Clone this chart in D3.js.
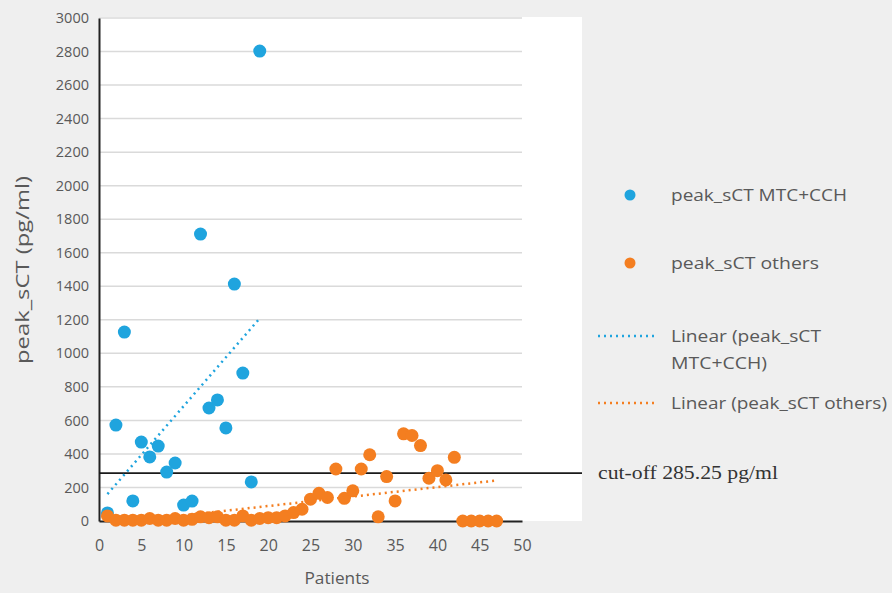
<!DOCTYPE html>
<html>
<head>
<meta charset="utf-8">
<script src="https://cdn.jsdelivr.net/npm/d3@7"></script>
<style>
  html, body { margin: 0; padding: 0; background: #efefef; }
  svg { display: block; }
</style>
</head>
<body>
<svg id="chart" width="892" height="593"></svg>
<script>
// ---- data ----
const mtcPatients = d3.range(1, 20);
const mtcValues = [48, 572, 1127, 120, 471, 382, 447, 292, 346, 95, 119, 1711, 674, 722, 555, 1413, 882, 233, 2803];

const otherPatients = d3.range(1, 48);
const otherValues = [30, 5, 5, 5, 5, 15, 5, 5, 15, 5, 10, 25, 20, 25, 5, 5, 30, 5, 15, 20,
  20, 30, 50, 70, 130, 165, 140, 310, 135, 180, 310, 395, 25, 265, 120, 520, 510, 450, 255, 300,
  245, 380, 0, 0, 0, 0, 0];

const xTicks = [0, 5, 10, 15, 20, 25, 30, 35, 40, 45, 50];
const yTicks = [0, 200, 400, 600, 800, 1000, 1200, 1400, 1600, 1800, 2000, 2200, 2400, 2600, 2800, 3000];
const cutoff = 285.25;
const cutoffLabel = "cut-off 285.25 pg/ml";
const seriesNames = ["peak_sCT MTC+CCH", "peak_sCT others"];
const trendNames = [["Linear (peak_sCT", "MTC+CCH)"], ["Linear (peak_sCT others)"]];
const colors = ["#1fa4de", "#f47e20"];

// ---- layout ----
const svg = d3.select("#chart");
const pLeft = 99, pRight = 522, pTop = 18, pBottom = 521, panelRight = 582;
const x = d3.scaleLinear().domain([0, 50]).range([pLeft, pRight]);
const y = d3.scaleLinear().domain([0, 3000]).range([pBottom, pTop]);
const sans = "'Open Sans', sans-serif";

svg.append("rect").attr("x", pLeft).attr("y", pTop - 1).attr("width", panelRight - pLeft).attr("height", pBottom - pTop + 1).attr("fill", "#ffffff");

// gridlines
svg.append("g").selectAll("line").data(yTicks.filter(d => d > 0)).join("line")
  .attr("x1", pLeft).attr("x2", pRight)
  .attr("y1", d => y(d)).attr("y2", d => y(d))
  .attr("stroke", "#dadada").attr("stroke-width", 1.5);

// axes
const yAxis = d3.axisLeft(y).tickValues(yTicks).tickFormat(d3.format("d")).tickSize(0).tickPadding(10);
const gy = svg.append("g").attr("transform", `translate(${pLeft},0)`).call(yAxis);
gy.select(".domain").attr("stroke", "#222").attr("stroke-width", 2);
gy.selectAll("text").attr("font-family", sans).attr("font-size", 14.5).attr("fill", "#595959");

const xAxis = d3.axisBottom(x).tickValues(xTicks).tickSize(0).tickPadding(19);
const gx = svg.append("g").attr("transform", `translate(0,${pBottom})`).call(xAxis);
gx.select(".domain").attr("stroke", "#222").attr("stroke-width", 2);
gx.selectAll("text").attr("font-family", sans).attr("font-size", 16).attr("fill", "#595959");

// axis titles
svg.append("text").attr("x", 337).attr("y", 584).attr("text-anchor", "middle")
  .attr("font-family", sans).attr("font-size", 17).attr("fill", "#595959")
  .attr("textLength", 65).attr("lengthAdjust", "spacingAndGlyphs").text("Patients");
svg.append("text").attr("transform", `translate(29,${270}) rotate(-90)`).attr("text-anchor", "middle")
  .attr("font-family", sans).attr("font-size", 19).attr("fill", "#595959")
  .attr("textLength", 188).attr("lengthAdjust", "spacingAndGlyphs").text("peak_sCT (pg/ml)");

// cut-off line
svg.append("line").attr("x1", pLeft).attr("x2", panelRight).attr("y1", y(cutoff)).attr("y2", y(cutoff))
  .attr("stroke", "#1a1a1a").attr("stroke-width", 1.6);
svg.append("text").attr("x", 598).attr("y", y(cutoff) + 6).attr("font-family", "'Liberation Serif', 'Times New Roman', serif")
  .attr("font-size", 18).attr("fill", "#333")
  .attr("textLength", 180).attr("lengthAdjust", "spacingAndGlyphs").text(cutoffLabel);

// trendlines (least squares from data)
function fit(xs, ys) {
  const mx = d3.mean(xs), my = d3.mean(ys);
  let sxy = 0, sxx = 0;
  xs.forEach((v, i) => { sxy += (v - mx) * (ys[i] - my); sxx += (v - mx) * (v - mx); });
  const b = sxy / sxx; return { a: my - b * mx, b };
}
function drawTrend(xs, ys, color) {
  const f = fit(xs, ys);
  const x0 = d3.min(xs), x1 = d3.max(xs);
  let start = x0;
  if (f.a + f.b * x0 < 0) start = -f.a / f.b;
  svg.append("line")
    .attr("x1", x(start)).attr("y1", y(f.a + f.b * start))
    .attr("x2", x(x1)).attr("y2", y(f.a + f.b * x1))
    .attr("stroke", color).attr("stroke-width", 2.5).attr("stroke-dasharray", "2,4");
}

// points
function drawPoints(xs, ys, color) {
  svg.append("g").selectAll("circle").data(xs.map((v, i) => [v, ys[i]])).join("circle")
    .attr("cx", d => x(d[0])).attr("cy", d => y(d[1])).attr("r", 6.5).attr("fill", color);
}
drawPoints(mtcPatients, mtcValues, colors[0]);
drawPoints(otherPatients, otherValues, colors[1]);
drawTrend(mtcPatients, mtcValues, colors[0]);
drawTrend(otherPatients, otherValues, colors[1]);

// legend
const lg = svg.append("g");
const legendWidths = [176, 148];
[195, 263].forEach((yy, i) => {
  lg.append("circle").attr("cx", 630).attr("cy", yy).attr("r", 5.5).attr("fill", colors[i]);
  lg.append("text").attr("x", 671).attr("y", yy + 6).attr("font-family", sans).attr("font-size", 17)
    .attr("fill", "#595959").attr("textLength", legendWidths[i]).attr("lengthAdjust", "spacingAndGlyphs")
    .text(seriesNames[i]);
});
const trendWidths = [[150, 96], [216]];
[[336, 0], [403, 1]].forEach(([yy, i]) => {
  lg.append("line").attr("x1", 598).attr("x2", 658).attr("y1", yy).attr("y2", yy)
    .attr("stroke", colors[i]).attr("stroke-width", 2.5).attr("stroke-dasharray", "2,4");
  trendNames[i].forEach((t, k) => {
    lg.append("text").attr("x", 671).attr("y", yy + 6 + k * 27).attr("font-family", sans).attr("font-size", 17)
      .attr("fill", "#595959").attr("textLength", trendWidths[i][k]).attr("lengthAdjust", "spacingAndGlyphs").text(t);
  });
});
</script>
</body>
</html>
